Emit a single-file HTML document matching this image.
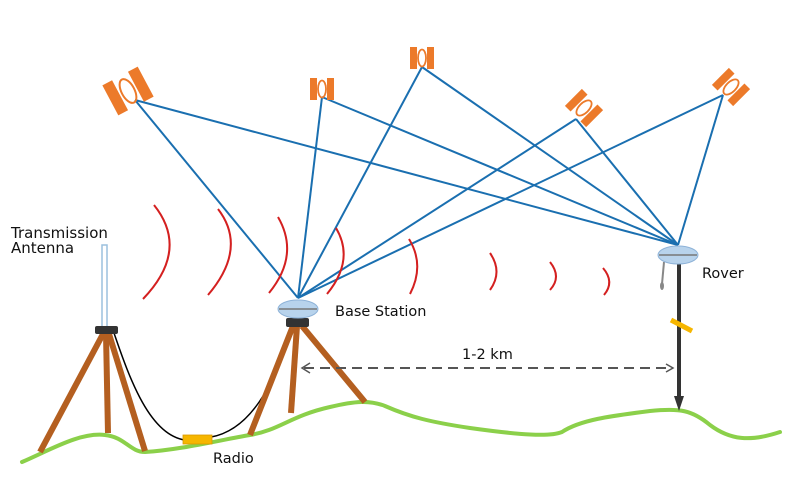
<!DOCTYPE html>
<html><head><meta charset="utf-8"><style>
html,body{margin:0;padding:0;background:#fff}
svg{display:block}
text{font-family:"DejaVu Sans","Liberation Sans",sans-serif;fill:#111}
</style></head><body>
<svg width="800" height="500" viewBox="0 0 800 500">
<defs>
<marker id="ah" markerWidth="10" markerHeight="10" refX="8" refY="5" orient="auto" markerUnits="userSpaceOnUse"><path d="M1,1 L8,5 L1,9" fill="none" stroke="#555" stroke-width="1.5"/></marker>
</defs>
<g stroke="#1a6fb0" stroke-width="2" fill="none">
<line x1="135" y1="100" x2="298" y2="298"/><line x1="135" y1="100" x2="678" y2="245"/>
<line x1="322" y1="97" x2="298" y2="298"/><line x1="322" y1="97" x2="678" y2="245"/>
<line x1="422" y1="67" x2="298" y2="298"/><line x1="422" y1="67" x2="678" y2="245"/>
<line x1="576" y1="119" x2="298" y2="298"/><line x1="576" y1="119" x2="678" y2="245"/>
<line x1="723" y1="95" x2="298" y2="298"/><line x1="723" y1="95" x2="678" y2="245"/>
</g>
<g fill="#ec7a2a">
<g transform="translate(128,91) rotate(-28)"><rect x="-20" y="-17" width="11" height="34"/><rect x="9" y="-17" width="11" height="34"/><ellipse cx="0" cy="0" rx="6.5" ry="13" fill="none" stroke="#ec7a2a" stroke-width="2"/></g>
<g transform="translate(322,89)"><rect x="-12" y="-11" width="7" height="22"/><rect x="5" y="-11" width="7" height="22"/><ellipse cx="0" cy="0" rx="4" ry="8.5" fill="none" stroke="#ec7a2a" stroke-width="1.8"/></g>
<g transform="translate(422,58)"><rect x="-12" y="-11" width="7" height="22"/><rect x="5" y="-11" width="7" height="22"/><ellipse cx="0" cy="0" rx="4" ry="8.5" fill="none" stroke="#ec7a2a" stroke-width="1.8"/></g>
<g transform="translate(584,108) rotate(45)"><rect x="-15" y="-12" width="8" height="24"/><rect x="7" y="-12" width="8" height="24"/><ellipse cx="0" cy="0" rx="5" ry="9.5" fill="none" stroke="#ec7a2a" stroke-width="1.8"/></g>
<g transform="translate(731,87) rotate(45)"><rect x="-15" y="-12" width="8" height="24"/><rect x="7" y="-12" width="8" height="24"/><ellipse cx="0" cy="0" rx="5" ry="9.5" fill="none" stroke="#ec7a2a" stroke-width="1.8"/></g>
</g>
<g stroke="#d42020" stroke-width="2" fill="none">
<path d="M154,205 Q190,250 143,299"/>
<path d="M218,209 Q248,248 208,295"/>
<path d="M278,217 Q300,255 269,293"/>
<path d="M336,228 Q355,260 327,294"/>
<path d="M409,239 Q425,265 410,294"/>
<path d="M490,253 Q503,272 490,290"/>
<path d="M550,262 Q562,277 550,290"/>
<path d="M603,268 Q615,282 604,295"/>
</g>
<path d="M22,462 C50,450 80,432 105,435 C125,437 130,452 145,452 C180,450 220,440 250,435 C280,430 290,416 330,407 C355,401 370,400 385,406 C410,417 430,422 470,428 C520,435 550,437 562,432 C580,420 610,416 650,411 C680,408 692,410 710,425 C730,440 750,442 780,432" fill="none" stroke="#8bd04a" stroke-width="4" stroke-linecap="round"/>
<path d="M114,333 C130,380 150,435 185,440" fill="none" stroke="#000" stroke-width="1.5"/>
<path d="M211,437 C250,430 275,385 290,330" fill="none" stroke="#000" stroke-width="1.5"/>
<rect x="183" y="435" width="29" height="9" fill="#f6b600" stroke="#d99a00" stroke-width="0.8"/>
<rect x="102" y="245" width="5" height="82" fill="#fff" stroke="#9cc0de" stroke-width="1.5"/>
<g stroke="#b45f20" stroke-width="6">
<line x1="103" y1="334" x2="40" y2="452"/><line x1="106" y1="334" x2="108" y2="433"/><line x1="109" y1="334" x2="145" y2="451"/>
</g>
<rect x="95" y="326" width="23" height="8" rx="2" fill="#333"/>
<g stroke="#b45f20" stroke-width="6">
<line x1="293" y1="326" x2="250" y2="435"/><line x1="297" y1="326" x2="291" y2="413"/><line x1="302" y1="326" x2="365" y2="402"/>
</g>
<rect x="286" y="318" width="23" height="9" rx="2" fill="#333"/>
<ellipse cx="298" cy="309" rx="20" ry="9" fill="#b8d3ec" stroke="#8fb3d8" stroke-width="1"/>
<line x1="279" y1="309" x2="317" y2="309" stroke="#777" stroke-width="1.5"/>
<line x1="679" y1="262" x2="679" y2="398" stroke="#333" stroke-width="4"/>
<path d="M674,396 L684,396 L679,411 Z" fill="#333"/>
<line x1="671" y1="320" x2="692" y2="331" stroke="#f6b600" stroke-width="5"/>
<line x1="664" y1="262" x2="662" y2="284" stroke="#888" stroke-width="2"/>
<ellipse cx="662" cy="286" rx="2" ry="4" fill="#888"/>
<ellipse cx="678" cy="255" rx="20" ry="9" fill="#b8d3ec" stroke="#8fb3d8" stroke-width="1"/>
<line x1="659" y1="255" x2="697" y2="255" stroke="#777" stroke-width="1.5"/>
<line x1="304" y1="368" x2="673" y2="368" stroke="#555" stroke-width="2" stroke-dasharray="10,6" marker-end="url(#ah)"/>
<path d="M310,363 L302,368 L310,373" fill="none" stroke="#555" stroke-width="1.5"/>
<text x="11" y="238" font-size="15">Transmission</text>
<text x="11" y="253" font-size="15">Antenna</text>
<text x="335" y="316" font-size="14.5">Base Station</text>
<text x="702" y="278" font-size="14.5">Rover</text>
<text x="462" y="359" font-size="14.5">1-2 km</text>
<text x="213" y="463" font-size="14.5">Radio</text>
</svg>
</body></html>
